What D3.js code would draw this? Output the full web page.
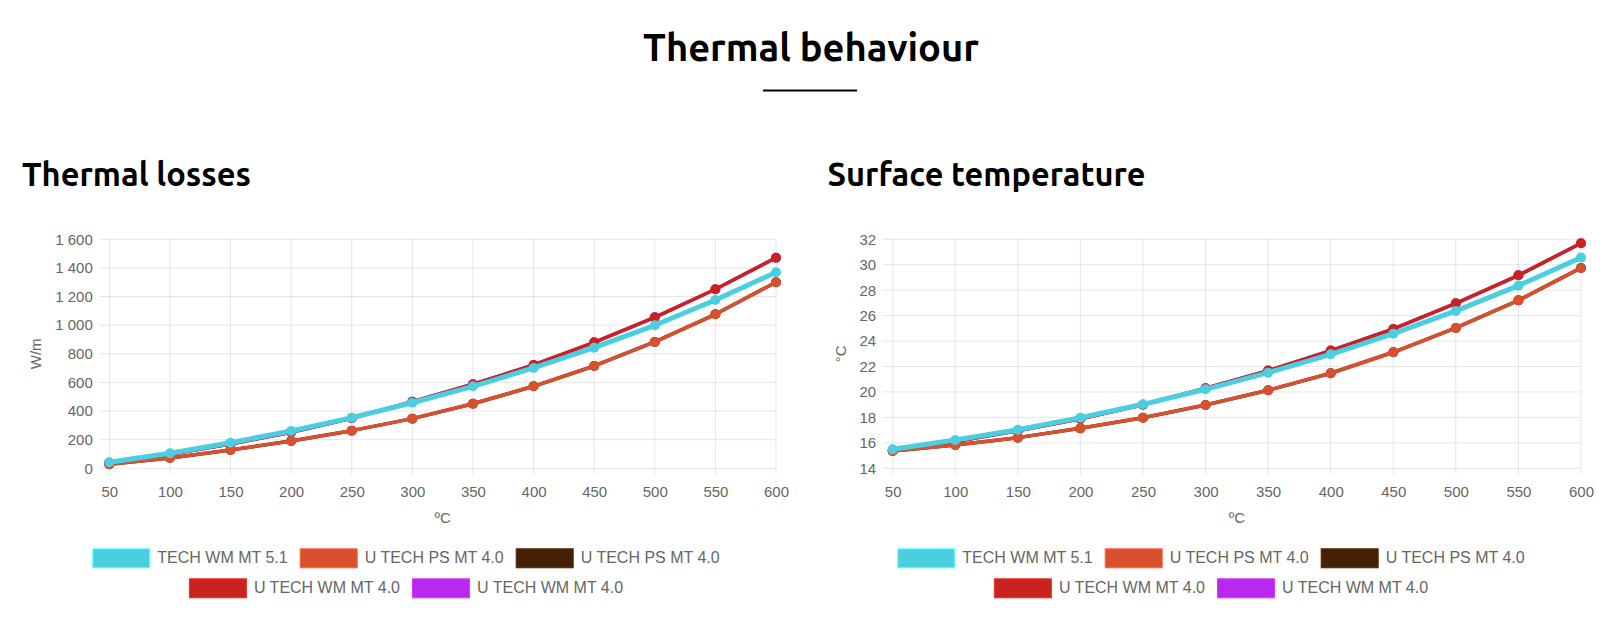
<!DOCTYPE html>
<html>
<head>
<meta charset="utf-8">
<script src="https://cdn.jsdelivr.net/npm/d3@7"></script>
<style>
  body { margin: 0; background: #fff; }
  svg { display: block; }
</style>
</head>
<body>
<div id="chart"></div>
<script>
// temperatures on the x axis
var temps = [50, 100, 150, 200, 250, 300, 350, 400, 450, 500, 550, 600];

var seriesNames = ["TECH WM MT 5.1", "U TECH PS MT 4.0", "U TECH PS MT 4.0", "U TECH WM MT 4.0", "U TECH WM MT 4.0"];
var seriesColors = ["#4bcfe0", "#d9502f", "#452005", "#c8231e", "#b829f0"];

// Thermal losses (W/m)
var lossCyan   = [42, 105, 179, 261, 354, 458, 573, 701, 843, 999, 1176, 1370];
var lossOrange = [28, 72, 128, 191, 263, 347, 451, 573, 715, 883, 1076, 1300];
var lossBrown  = [28, 72, 128, 191, 263, 347, 451, 573, 715, 883, 1076, 1300];
var lossRed    = [38, 98, 170, 252, 350, 465, 587, 722, 880, 1055, 1251, 1471];
var lossPurple = [38, 98, 170, 252, 350, 465, 587, 722, 880, 1055, 1251, 1471];
var lossTicks  = [0, 200, 400, 600, 800, 1000, 1200, 1400, 1600];

// Surface temperature (ºC)
var surfCyan   = [15.49, 16.22, 17.03, 17.98, 19.03, 20.21, 21.52, 22.96, 24.58, 26.37, 28.36, 30.56];
var surfOrange = [15.36, 15.83, 16.41, 17.14, 17.98, 18.98, 20.13, 21.47, 23.12, 25.03, 27.2, 29.75];
var surfBrown  = [15.36, 15.83, 16.41, 17.14, 17.98, 18.98, 20.13, 21.47, 23.12, 25.03, 27.2, 29.75];
var surfRed    = [15.4, 16.1, 16.95, 17.9, 19.0, 20.29, 21.68, 23.25, 24.95, 26.97, 29.17, 31.69];
var surfPurple = [15.4, 16.1, 16.95, 17.9, 19.0, 20.29, 21.68, 23.25, 24.95, 26.97, 29.17, 31.69];
var surfTicks  = [14, 16, 18, 20, 22, 24, 26, 28, 30, 32];

var width = 1622, height = 626;
var titleFont = "Ubuntu, Lato, 'Noto Sans', sans-serif";
var textFont = "'Liberation Sans', Arial, sans-serif";
var grid = "rgba(0,0,0,0.1)";

var svg = d3.select("#chart").append("svg")
    .attr("width", width)
    .attr("height", height);

// shrink/grow a bold title until it has the wanted width
function fitWidth(t, target) {
    var w = t.node().getComputedTextLength();
    var size = parseFloat(t.attr("font-size"));
    t.attr("font-size", size * target / w);
}

var mainTitle = svg.append("text")
    .attr("x", 811)
    .attr("y", 61)
    .attr("text-anchor", "middle")
    .attr("font-family", titleFont)
    .attr("font-weight", "bold")
    .attr("font-size", 38)
    .attr("fill", "#000")
    .text("Thermal behaviour");
fitWidth(mainTitle, 336);

svg.append("rect")
    .attr("x", 763)
    .attr("y", 89.5)
    .attr("width", 94)
    .attr("height", 2)
    .attr("fill", "#000");

var lossFormat = d3.formatLocale({decimal: ",", thousands: " ", grouping: [3], currency: ["", ""]}).format(",");

var charts = [
    {
        title: "Thermal losses", titleX: 22, titleW: 229,
        left: 109.3, right: 776, yTitle: "W/m", yTitleX: 35, legendCx: 406,
        domain: [0, 1600], ticks: lossTicks, fmt: lossFormat,
        series: [lossCyan, lossOrange, lossBrown, lossRed, lossPurple]
    },
    {
        title: "Surface temperature", titleX: 827.5, titleW: 318,
        left: 892.7, right: 1581, yTitle: "°C", yTitleX: 840, legendCx: 1211,
        domain: [14, 32], ticks: surfTicks, fmt: d3.format("d"),
        series: [surfCyan, surfOrange, surfBrown, surfRed, surfPurple]
    }
];

var plotTop = 239.3, plotBottom = 468.3;

charts.forEach(function (c) {
    var g = svg.append("g");

    var t = g.append("text")
        .attr("x", c.titleX)
        .attr("y", 186)
        .attr("font-family", titleFont)
        .attr("font-weight", "bold")
        .attr("font-size", 30)
        .attr("fill", "#000")
        .text(c.title);
    fitWidth(t, c.titleW);

    var x = d3.scalePoint().domain(temps).range([c.left, c.right]);
    var y = d3.scaleLinear().domain(c.domain).range([plotBottom, plotTop]);

    // grid
    g.selectAll(".hgrid").data(c.ticks).enter().append("line")
        .attr("x1", c.left - 10).attr("x2", c.right)
        .attr("y1", d => y(d)).attr("y2", d => y(d))
        .attr("stroke", grid).attr("stroke-width", 1);
    g.selectAll(".vgrid").data(temps).enter().append("line")
        .attr("x1", d => x(d)).attr("x2", d => x(d))
        .attr("y1", plotTop).attr("y2", plotBottom + 6)
        .attr("stroke", grid).attr("stroke-width", 1);

    // axes (labels only, grid drawn above)
    var yAxis = g.append("g")
        .attr("transform", "translate(" + (c.left - 16.5) + ",0)")
        .call(d3.axisLeft(y).tickValues(c.ticks).tickFormat(c.fmt).tickSize(0).tickPadding(0));
    var xAxis = g.append("g")
        .attr("transform", "translate(0," + (plotBottom + 18.5) + ")")
        .call(d3.axisBottom(x).tickSize(0).tickPadding(0));
    [yAxis, xAxis].forEach(function (a) {
        a.select(".domain").remove();
        a.selectAll("text")
            .attr("font-family", textFont)
            .attr("font-size", 15)
            .attr("fill", "#666");
    });

    g.append("text")
        .attr("x", (c.left + c.right) / 2)
        .attr("y", 523)
        .attr("text-anchor", "middle")
        .attr("font-family", textFont)
        .attr("font-size", 15)
        .attr("fill", "#666")
        .text("ºC");

    g.append("text")
        .attr("transform", "translate(" + (c.yTitleX + 5.5) + "," + ((plotTop + plotBottom) / 2) + ") rotate(-90)")
        .attr("text-anchor", "middle")
        .attr("font-family", textFont)
        .attr("font-size", 15)
        .attr("fill", "#666")
        .text(c.yTitle);

    // lines, first dataset drawn last so it sits on top
    var line = d3.line().x((d, i) => x(temps[i])).y(d => y(d));
    d3.range(c.series.length).reverse().forEach(function (k) {
        var s = c.series[k];
        g.append("path")
            .datum(s)
            .attr("d", line)
            .attr("fill", "none")
            .attr("stroke", seriesColors[k])
            .attr("stroke-width", k === 0 ? 5 : 3.5)
            .attr("stroke-linejoin", "round");
        g.selectAll(".pt" + k).data(s).enter().append("circle")
            .attr("cx", (d, i) => x(temps[i]))
            .attr("cy", d => y(d))
            .attr("r", 5)
            .attr("fill", seriesColors[k]);
    });

    // legend
    var boxW = 58, boxH = 20, gapText = 7, gapItem = 12, maxW = 760;
    var items = seriesNames.map(function (n, i) {
        var tt = g.append("text")
            .attr("font-family", textFont)
            .attr("font-size", 16)
            .attr("fill", "#666")
            .text(n);
        return {text: tt, color: seriesColors[i], w: boxW + gapText + tt.node().getComputedTextLength()};
    });
    var rows = [[]], rowW = [0];
    items.forEach(function (it) {
        var r = rows.length - 1;
        var add = (rows[r].length ? gapItem : 0) + it.w;
        if (rowW[r] + add > maxW) {
            rows.push([it]); rowW.push(it.w);
        } else {
            rows[r].push(it); rowW[r] += add;
        }
    });
    rows.forEach(function (row, r) {
        var cx = c.legendCx - rowW[r] / 2;
        var by = 548.3 + r * 30;
        row.forEach(function (it) {
            g.append("rect")
                .attr("x", cx + 0.5).attr("y", by + 0.5)
                .attr("width", boxW - 1).attr("height", boxH - 1)
                .attr("fill", it.color)
                .attr("stroke", d3.color(it.color).brighter(0.6))
                .attr("stroke-width", 1);
            it.text.attr("x", cx + boxW + gapText).attr("y", by + 15);
            cx += it.w + gapItem;
        });
    });
});
</script>
</body>
</html>
